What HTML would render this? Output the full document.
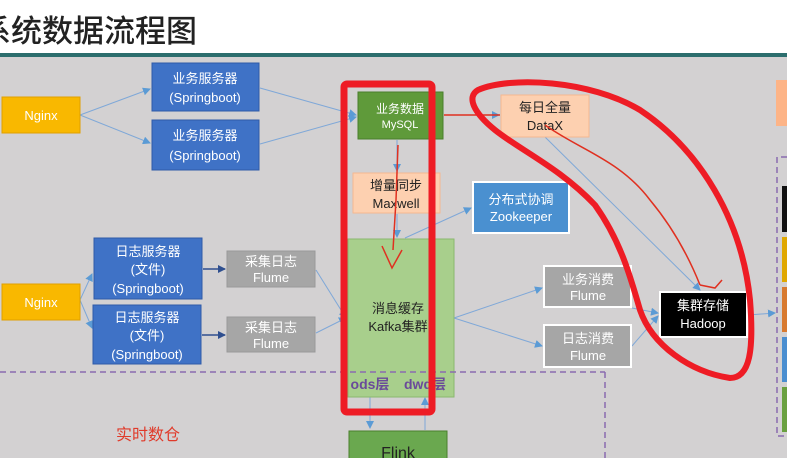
<!DOCTYPE html>
<html><head><meta charset="utf-8"><style>
html,body{margin:0;padding:0;width:787px;height:458px;overflow:hidden;background:#fff}
svg{display:block}
text{font-family:"Liberation Sans","Noto Sans CJK SC",sans-serif}
</style></head><body>
<svg width="787" height="458" viewBox="0 0 787 458" xmlns="http://www.w3.org/2000/svg">
<defs>
<marker id="a" markerWidth="8" markerHeight="8" refX="7" refY="4" orient="auto" markerUnits="userSpaceOnUse"><path d="M0,0 L8,4 L0,8 z" fill="#5b9bd5"/></marker>
<marker id="d" markerWidth="8" markerHeight="8" refX="7" refY="4" orient="auto" markerUnits="userSpaceOnUse"><path d="M0,0 L8,4 L0,8 z" fill="#2f4f8f"/></marker>
</defs>
<rect x="0" y="0" width="787" height="53" fill="#fff"/>
<text x="-20" y="42" font-size="31" fill="#222" font-weight="500">系统数据流程图</text>
<rect x="0" y="53" width="787" height="4" fill="#2c6e6e"/>
<rect x="0" y="57" width="787" height="401" fill="#d3d1d2"/>

<g stroke="#7fa8d8" stroke-width="1" fill="none" marker-end="url(#a)">
<line x1="80" y1="115" x2="150" y2="89"/>
<line x1="80" y1="115" x2="150" y2="143"/>
<line x1="260" y1="88" x2="356" y2="115"/>
<line x1="260" y1="144" x2="356" y2="117"/>
<line x1="444" y1="115" x2="499" y2="115"/>
<line x1="397" y1="140" x2="397" y2="171"/>
<line x1="397" y1="214" x2="397" y2="237"/>
<line x1="405" y1="238" x2="471" y2="208"/>
<line x1="80" y1="300" x2="92" y2="274"/>
<line x1="80" y1="300" x2="92" y2="328"/>
<line x1="316" y1="270" x2="346" y2="318"/>
<line x1="316" y1="333" x2="346" y2="318"/>
<line x1="454" y1="318" x2="542" y2="288"/>
<line x1="454" y1="318" x2="542" y2="346"/>
<line x1="632" y1="308" x2="658" y2="313"/>
<line x1="632" y1="346" x2="658" y2="316"/>
<line x1="545" y1="137" x2="700" y2="290"/>
<line x1="748" y1="315" x2="775" y2="313"/>
<line x1="370" y1="397" x2="370" y2="428"/>
<line x1="425" y1="430" x2="425" y2="398"/>
</g>
<g stroke="#2f4f8f" stroke-width="1.5" marker-end="url(#d)">
<line x1="203" y1="269" x2="225" y2="269"/>
<line x1="202" y1="335" x2="225" y2="335"/>
</g>

<g font-size="13" text-anchor="middle">
<rect x="2" y="97" width="78" height="36" fill="#f9b800" stroke="#e0a000"/>
<text x="41" y="120" fill="#fff">Nginx</text>
<rect x="2" y="284" width="78" height="36" fill="#f9b800" stroke="#e0a000"/>
<text x="41" y="307" fill="#fff">Nginx</text>

<rect x="152" y="63" width="107" height="48" fill="#3f72c6" stroke="#2f5aa8"/>
<text x="205" y="83" fill="#fff">业务服务器</text><text x="205" y="102" fill="#fff">(Springboot)</text>
<rect x="152" y="120" width="107" height="50" fill="#3f72c6" stroke="#2f5aa8"/>
<text x="205" y="140" fill="#fff">业务服务器</text><text x="205" y="160" fill="#fff">(Springboot)</text>

<rect x="94" y="238" width="108" height="61" fill="#3f72c6" stroke="#2f5aa8"/>
<text x="148" y="256" fill="#fff">日志服务器</text><text x="148" y="274" fill="#fff">(文件)</text><text x="148" y="293" fill="#fff">(Springboot)</text>
<rect x="93" y="305" width="108" height="59" fill="#3f72c6" stroke="#2f5aa8"/>
<text x="147" y="322" fill="#fff">日志服务器</text><text x="147" y="340" fill="#fff">(文件)</text><text x="147" y="359" fill="#fff">(Springboot)</text>

<rect x="227" y="251" width="88" height="36" fill="#a6a6a6" stroke="#999"/>
<text x="271" y="266" fill="#fff">采集日志</text><text x="271" y="282" fill="#fff">Flume</text>
<rect x="227" y="317" width="88" height="35" fill="#a6a6a6" stroke="#999"/>
<text x="271" y="332" fill="#fff">采集日志</text><text x="271" y="348" fill="#fff">Flume</text>

<rect x="358" y="92" width="85" height="47" fill="#5f9a3a" stroke="#4a7f2c"/>
<text x="400" y="113" fill="#fff" font-size="12">业务数据</text><text x="400" y="128" fill="#fff" font-size="11">MySQL</text>

<rect x="353" y="173" width="87" height="40" fill="#fdd0b0" stroke="#f5b890"/>
<text x="396" y="190" fill="#222">增量同步</text><text x="396" y="208" fill="#222">Maxwell</text>

<rect x="501" y="95" width="88" height="42" fill="#fdd0b0" stroke="#f5b890"/>
<text x="545" y="112" fill="#222">每日全量</text><text x="545" y="130" fill="#222">DataX</text>

<rect x="473" y="182" width="96" height="51" fill="#4a90d0" stroke="#fff" stroke-width="2"/>
<text x="521" y="204" fill="#fff">分布式协调</text><text x="521" y="221" fill="#fff">Zookeeper</text>

<rect x="348" y="239" width="106" height="158" fill="#a8cf8c" stroke="#8ab86e"/>
<text x="398" y="313" fill="#222">消息缓存</text><text x="398" y="331" fill="#222">Kafka集群</text>
<text x="370" y="389" fill="#6a4a9a" font-weight="bold" font-size="14">ods层</text>
<text x="425" y="389" fill="#6a4a9a" font-weight="bold" font-size="14">dwd层</text>

<rect x="544" y="266" width="87" height="41" fill="#a6a6a6" stroke="#fff" stroke-width="2"/>
<text x="588" y="284" fill="#fff">业务消费</text><text x="588" y="300" fill="#fff">Flume</text>
<rect x="544" y="325" width="87" height="42" fill="#a6a6a6" stroke="#fff" stroke-width="2"/>
<text x="588" y="343" fill="#fff">日志消费</text><text x="588" y="360" fill="#fff">Flume</text>

<rect x="660" y="292" width="87" height="45" fill="#000" stroke="#fff" stroke-width="2"/>
<text x="703" y="310" fill="#fff">集群存储</text><text x="703" y="328" fill="#fff">Hadoop</text>

<rect x="349" y="431" width="98" height="30" fill="#6aa84f" stroke="#4a7f2c"/>
<text x="398" y="458" fill="#222" font-size="16">Flink</text>
<text x="148" y="440" fill="#e03a2a" font-size="16">实时数仓</text>
</g>

<g stroke="#8a6bb0" stroke-width="1.5" stroke-dasharray="6,4" fill="none">
<line x1="0" y1="372" x2="605" y2="372"/>
<line x1="605" y1="372" x2="605" y2="458"/>
<path d="M787,157 L777,157 L777,436 L787,436"/>
</g>
<rect x="776" y="80" width="11" height="46" fill="#fdb487"/>
<rect x="782" y="186" width="5" height="46" fill="#111"/>
<rect x="782" y="237" width="5" height="45" fill="#e0a800"/>
<rect x="782" y="287" width="5" height="45" fill="#d87a30"/>
<rect x="782" y="337" width="5" height="45" fill="#4a8ed0"/>
<rect x="782" y="387" width="5" height="45" fill="#6aa040"/>

<rect x="344" y="84" width="88" height="328" fill="none" stroke="#ee1c25" stroke-width="7" rx="3"/>
<g stroke="#e03020" stroke-width="1.5" fill="none">
<path d="M444,115 L500,115"/>
<path d="M398,145 L396,200 L393,250"/>
<path d="M382,246 L392,268 L402,250"/>
<path d="M545,125 C580,150 620,160 650,200 C675,230 690,260 700,285"/>
<path d="M700,285 L715,288 L722,280"/>
</g>
<path d="M478,90 C510,76 590,80 640,110 C700,150 742,220 750,300 C754,350 750,378 730,378 C690,372 652,345 640,310 C630,275 620,240 595,205 C560,168 520,150 495,130 C474,113 466,97 478,90 Z" fill="none" stroke="#ee1c25" stroke-width="6"/>
</svg>
</body></html>
